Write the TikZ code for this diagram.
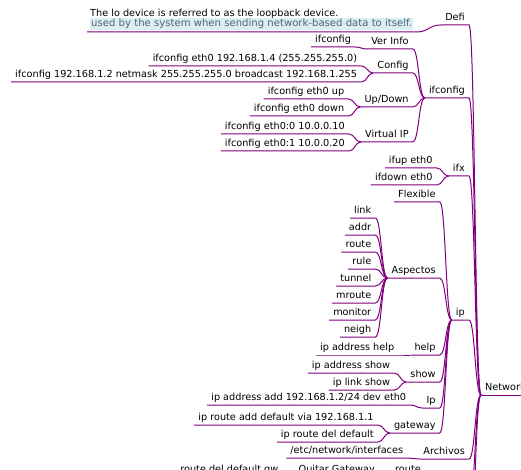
\documentclass[tikz,border=0pt]{standalone}
\usepackage{fontspec}
\setmainfont{DejaVu Sans}
\usetikzlibrary{calc,positioning}
\definecolor{mmline}{HTML}{800080}
\definecolor{notebg}{HTML}{DCEEF4}
\definecolor{notefg}{HTML}{4A6676}

\begin{document}
\begin{tikzpicture}[x=1pt,y=-1pt,
every node/.style={font=\fontsize{9.7}{11.5}\selectfont,inner xsep=4pt,inner ysep=2pt,
  text height=7.3pt,text depth=2.3pt,anchor=south east},
branch/.style={draw=mmline,line width=1pt},
twig/.style={to path={let \p1=(\tikztostart),\p2=(\tikztotarget) in
  .. controls ({(\x1+\x2)/2},\y1) and ({(\x1+\x2)/2},\y2) .. (\tikztotarget)}}]
\useasboundingbox (0,0) rectangle (521,470);
\clip (0,0) rectangle (521,470);

% root and first level
\node[anchor=south west] (net) at (481,395) {Network};
\node (defi) at ($(net.south west)+(-12,-370)$) {Defi};
\node (ifc) at ($(net.south west)+(-12,-297)$) {ifconfig};
\node (ifx) at ($(net.south west)+(-12,-219)$) {ifx};
\node (ip) at ($(net.south west)+(-12,-75)$) {ip};
\node (arch) at ($(net.south west)+(-12,64)$) {Archivos};
\coordinate (low1) at (469,505);
\coordinate (low2) at (469,560);

% Defi
\node[anchor=south west,align=left,text height={},text depth={},inner xsep=3pt] (lo) at (87,32)
  {The lo device is referred to as the loopback device.\\[-1pt]
   {\setlength{\fboxsep}{1pt}\colorbox{notebg}{\fontsize{10.1}{11.5}\selectfont\color{notefg}used by the system when sending network-based data to itself.}}};

% ifconfig
\node (ver) at ($(ifc.south west)+(-12,-49)$) {Ver Info};
\node (cfg) at ($(ifc.south west)+(-12,-25)$) {Config};
\node (updn) at ($(ifc.south west)+(-12,9)$) {Up/Down};
\node (vip) at ($(ifc.south west)+(-12,44)$) {Virtual IP};
\node (ver1) at ($(ver.south west)+(-12,-2)$) {ifconfig};
\node (cfg1) at ($(cfg.south west)+(-12,-7)$) {ifconfig eth0 192.168.1.4 (255.255.255.0)};
\node (cfg2) at ($(cfg.south west)+(-12,9)$) {ifconfig 192.168.1.2 netmask 255.255.255.0 broadcast 192.168.1.255};
\node (updn1) at ($(updn.south west)+(-12,-8)$) {ifconfig eth0 up};
\node (updn2) at ($(updn.south west)+(-12,9)$) {ifconfig eth0 down};
\node (vip1) at ($(vip.south west)+(-12,-8)$) {ifconfig eth0:0 10.0.0.10};
\node (vip2) at ($(vip.south west)+(-12,9)$) {ifconfig eth0:1 10.0.0.20};

% ifx
\node (ifup) at ($(ifx.south west)+(-12,-8)$) {ifup eth0};
\node (ifdown) at ($(ifx.south west)+(-12,9)$) {ifdown eth0};

% ip
\node (flex) at ($(ip.south west)+(-12,-118)$) {Flexible};
\node (asp) at ($(ip.south west)+(-12,-42)$) {Aspectos};
\node (help) at ($(ip.south west)+(-12,35)$) {help};
\node (show) at ($(ip.south west)+(-12,62)$) {show};
\node (ipadd) at ($(ip.south west)+(-12,88)$) {Ip};
\node (gw) at ($(ip.south west)+(-12,113)$) {gateway};
\node (asp1) at ($(asp.south west)+(-12,-60)$) {link};
\node (asp2) at ($(asp.south west)+(-12,-43)$) {addr};
\node (asp3) at ($(asp.south west)+(-12,-26)$) {route};
\node (asp4) at ($(asp.south west)+(-12,-9)$) {rule};
\node (asp5) at ($(asp.south west)+(-12,8)$) {tunnel};
\node (asp6) at ($(asp.south west)+(-12,25)$) {mroute};
\node (asp7) at ($(asp.south west)+(-12,42)$) {monitor};
\node (asp8) at ($(asp.south west)+(-12,59)$) {neigh};
\node (help1) at ($(help.south west)+(-12,0)$) {ip address help};
\node (show1) at ($(show.south west)+(-12,-9)$) {ip address show};
\node (show2) at ($(show.south west)+(-12,8)$) {ip link show};
\node (ipadd1) at ($(ipadd.south west)+(-12,-3)$) {ip address add 192.168.1.2/24 dev eth0};
\node (gw1) at ($(gw.south west)+(-12,-8)$) {ip route add default via 192.168.1.1};
\node (gw2) at ($(gw.south west)+(-12,9)$) {ip route del default};

% Archivos
\node (etc) at ($(arch.south west)+(-12,-1)$) {/etc/network/interfaces};

% cut off at the bottom
\node[anchor=south west] (rt) at (391,477) {route};
\node (quit) at ($(rt.south west)+(-12,0)$) {Quitar Gateway};
\node (rtdel) at ($(quit.south west)+(-12,0)$) {route del default gw};

% connectors
\draw[branch] (net.south west) -- (net.south east);
\draw[branch] (defi.south west) -- (defi.south east) to[twig] (net.south west);
\draw[branch] (ifc.south west) -- (ifc.south east) to[twig] (net.south west);
\draw[branch] (ifx.south west) -- (ifx.south east) to[twig] (net.south west);
\draw[branch] (ip.south west) -- (ip.south east) to[twig] (net.south west);
\draw[branch] (arch.south west) -- (arch.south east) to[twig] (net.south west);
\draw[branch] (low1) to[twig] (net.south west);
\draw[branch] (low2) to[twig] (net.south west);

\draw[branch] (lo.south west) -- (lo.south east) to[twig] (defi.south west);

\draw[branch] (ver.south west) -- (ver.south east) to[twig] (ifc.south west);
\draw[branch] (cfg.south west) -- (cfg.south east) to[twig] (ifc.south west);
\draw[branch] (updn.south west) -- (updn.south east) to[twig] (ifc.south west);
\draw[branch] (vip.south west) -- (vip.south east) to[twig] (ifc.south west);
\draw[branch] (ver1.south west) -- (ver1.south east) to[twig] (ver.south west);
\draw[branch] (cfg1.south west) -- (cfg1.south east) to[twig] (cfg.south west);
\draw[branch] (cfg2.south west) -- (cfg2.south east) to[twig] (cfg.south west);
\draw[branch] (updn1.south west) -- (updn1.south east) to[twig] (updn.south west);
\draw[branch] (updn2.south west) -- (updn2.south east) to[twig] (updn.south west);
\draw[branch] (vip1.south west) -- (vip1.south east) to[twig] (vip.south west);
\draw[branch] (vip2.south west) -- (vip2.south east) to[twig] (vip.south west);

\draw[branch] (ifup.south west) -- (ifup.south east) to[twig] (ifx.south west);
\draw[branch] (ifdown.south west) -- (ifdown.south east) to[twig] (ifx.south west);

\draw[branch] (flex.south west) -- (flex.south east) to[twig] (ip.south west);
\draw[branch] (asp.south west) -- (asp.south east) to[twig] (ip.south west);
\draw[branch] (help.south west) -- (help.south east) to[twig] (ip.south west);
\draw[branch] (show.south west) -- (show.south east) to[twig] (ip.south west);
\draw[branch] (ipadd.south west) -- (ipadd.south east) to[twig] (ip.south west);
\draw[branch] (gw.south west) -- (gw.south east) to[twig] (ip.south west);
\draw[branch] (asp1.south west) -- (asp1.south east) to[twig] (asp.south west);
\draw[branch] (asp2.south west) -- (asp2.south east) to[twig] (asp.south west);
\draw[branch] (asp3.south west) -- (asp3.south east) to[twig] (asp.south west);
\draw[branch] (asp4.south west) -- (asp4.south east) to[twig] (asp.south west);
\draw[branch] (asp5.south west) -- (asp5.south east) to[twig] (asp.south west);
\draw[branch] (asp6.south west) -- (asp6.south east) to[twig] (asp.south west);
\draw[branch] (asp7.south west) -- (asp7.south east) to[twig] (asp.south west);
\draw[branch] (asp8.south west) -- (asp8.south east) to[twig] (asp.south west);
\draw[branch] (help1.south west) -- (help1.south east) to[twig] (help.south west);
\draw[branch] (show1.south west) -- (show1.south east) to[twig] (show.south west);
\draw[branch] (show2.south west) -- (show2.south east) to[twig] (show.south west);
\draw[branch] (ipadd1.south west) -- (ipadd1.south east) to[twig] (ipadd.south west);
\draw[branch] (gw1.south west) -- (gw1.south east) to[twig] (gw.south west);
\draw[branch] (gw2.south west) -- (gw2.south east) to[twig] (gw.south west);

\draw[branch] (etc.south west) -- (etc.south east) to[twig] (arch.south west);
\draw[branch] (rtdel.south west) -- (rtdel.south east) to[twig] (quit.south west);
\draw[branch] (quit.south west) -- (quit.south east) to[twig] (rt.south west);
\end{tikzpicture}
\end{document}
